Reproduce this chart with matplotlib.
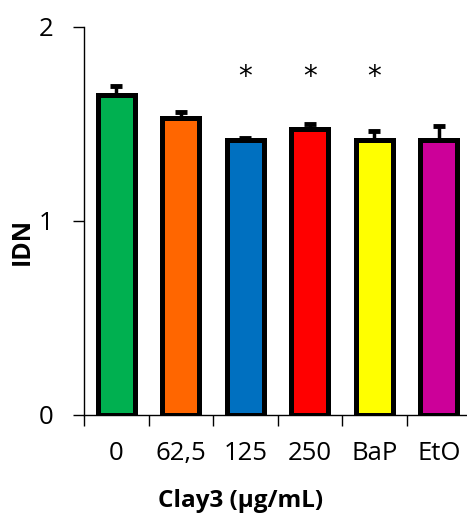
import matplotlib
matplotlib.use("Agg")
import matplotlib.pyplot as plt
import numpy as np

categories = ["0", "62,5", "125", "250", "BaP", "EtO"]
values = [1.650, 1.530, 1.415, 1.475, 1.418, 1.418]
errors = [0.045, 0.030, 0.010, 0.026, 0.047, 0.072]
colors = ["#00b050", "#ff6600", "#0070c0", "#ff0000", "#ffff00", "#cc0099"]
significant = [False, False, True, True, True, False]
star_y = 1.74

plt.rcParams['font.family'] = ['Open Sans', 'DejaVu Sans']

fig = plt.figure(figsize=(4.67, 5.13), dpi=100)
ax = fig.add_axes([84/467, 98/513, (471-84)/467, (415-26.7)/513])

x = np.arange(len(categories)) + 0.5
ax.bar(x, values, width=0.57, color=colors, edgecolor="black", linewidth=3.6, zorder=3)
ax.errorbar(x, values, yerr=[np.zeros(len(values)), errors], fmt='none',
            ecolor='black', elinewidth=2.5, capsize=4.5, capthick=3.5, zorder=2)

for xi, s in zip(x, significant):
    if s:
        ax.text(xi, star_y, "*", ha='center', va='center', fontsize=20,
                family='DejaVu Sans')

ax.set_xlim(0, len(categories))
ax.set_ylim(0, 2)
ax.set_yticks([0, 1, 2])
ax.set_yticklabels(["0", "1", "2"])
ax.set_xticks(np.arange(len(categories)))
ax.set_xticklabels([])
ax.set_xticks(x, minor=True)
ax.set_xticklabels(categories, minor=True)
ax.tick_params(axis='x', which='major', length=8, width=1, direction='out')
ax.tick_params(axis='x', which='minor', length=0, pad=19, labelsize=18.5)
ax.tick_params(axis='y', length=8, width=1, direction='out', pad=14, labelsize=18.5)

for side in ['top', 'right']:
    ax.spines[side].set_visible(False)
ax.spines['left'].set_linewidth(1)
ax.spines['bottom'].set_linewidth(1)

fig.text(22/467, 1-241/513, "IDN", rotation=90, ha='center', va='center',
         fontsize=18, fontweight='bold')
fig.text(241/467, 1-507/513, "Clay3 (µg/mL)", ha='center', va='baseline',
         fontsize=17.5, fontweight='bold')

fig.savefig("out.png", dpi=100)
